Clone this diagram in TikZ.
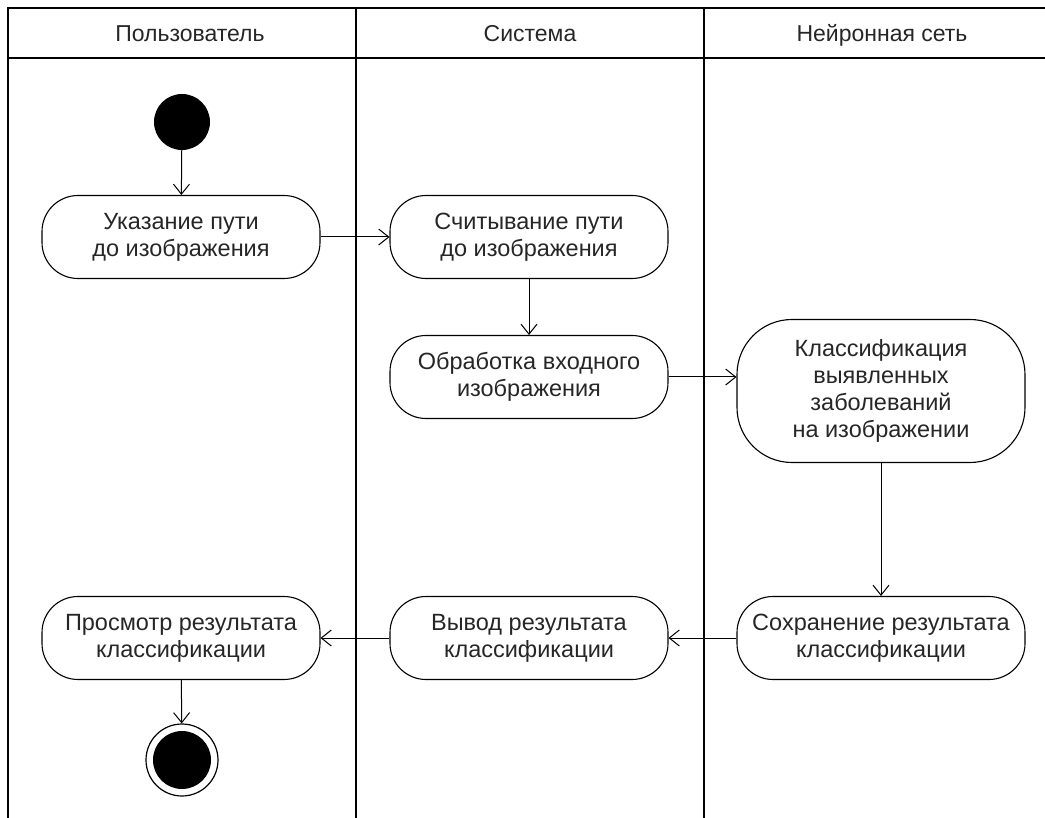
\documentclass[tikz,border=0pt]{standalone}
\usepackage{fontspec}
\setmainfont{Liberation Sans}
\usetikzlibrary{arrows.meta}
\begin{document}
\begin{tikzpicture}[x=1pt,y=-1pt,
  act/.style={draw,line width=1.1pt,rounded corners=36pt,minimum width=278pt,minimum height=83pt,align=center,font=\fontsize{23.5}{27}\selectfont,text=black!85,inner sep=0pt},
  flow/.style={-{Straight Barb[length=10pt,width=16pt]},line width=1pt},
  lane/.style={line width=1.1pt},
  hdr/.style={font=\fontsize{23}{27}\selectfont,text=black!85,anchor=base}]
\useasboundingbox (0,0) rectangle (1045,818);
\draw[lane] (1045,8) -- (8,8) -- (8,818);
\draw[lane] (8,58) -- (1045,58);
\draw[lane] (356,8) -- (356,818);
\draw[lane] (704,8) -- (704,818);
\node[hdr] (h1) at (190,42) {Пользователь};
\node[hdr] (h2) at (530,42) {Система};
\node[hdr] (h3) at (882,42) {Нейронная сеть};
\node[circle,fill=black,minimum size=56pt,inner sep=0pt] (start) at (182,122) {};
\node[act] (n1) at (181,237) {Указание пути\\до изображения};
\node[act] (n2) at (529,237) {Считывание пути\\до изображения};
\node[act] (n3) at (529,377) {Обработка входного\\изображения};
\node[act,minimum width=288pt,minimum height=143pt,rounded corners=55pt] (n4) at (881,391) {Классификация\\выявленных\\заболеваний\\на изображении};
\node[act,minimum width=288pt] (n5) at (881,638) {Сохранение результата\\классификации};
\node[act] (n6) at (529,638) {Вывод результата\\классификации};
\node[act] (n7) at (181,638) {Просмотр результата\\классификации};
\node[circle,draw,line width=1.2pt,minimum size=72pt,inner sep=0pt] (end) at (182,760) {};
\node[circle,fill=black,minimum size=58pt,inner sep=0pt] (endin) at (182,760) {};
\draw[flow] (start) -- (n1);
\draw[flow] (n1) -- (n2);
\draw[flow] (n2) -- (n3);
\draw[flow] (n3) -- (n4.west |- n3);
\draw[flow] (n4) -- (n5);
\draw[flow] (n5) -- (n6);
\draw[flow] (n6) -- (n7);
\draw[flow] (n7) -- (end);
\end{tikzpicture}
\end{document}
